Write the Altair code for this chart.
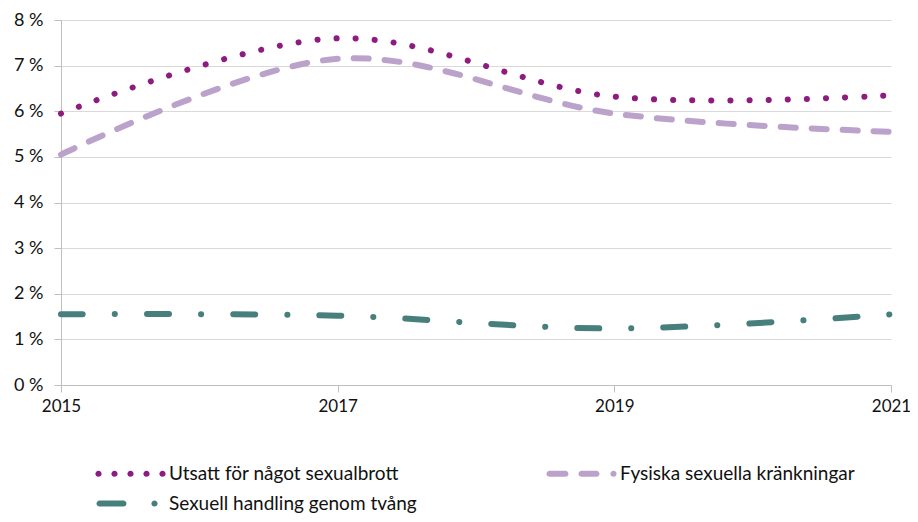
import altair as alt
import pandas as pd

years = [2015, 2017, 2019, 2021]
series_names = ["Utsatt för något sexualbrott", "Fysiska sexuella kränkningar", "Sexuell handling genom tvång"]
utsatt = [5.95, 7.6, 6.32, 6.35]
fysiska = [5.05, 7.15, 5.95, 5.55]
tvang = [1.55, 1.52, 1.24, 1.55]
colors = ["#8E1C80", "#BBA2CB", "#477F7D"]
dashes = [[0.1, 19], [15, 16], [22, 32, 0.1, 32]]
legend_order = [0, 2, 1]  # legend fills column-wise

rows = []
for name, vals in zip(series_names, [utsatt, fysiska, tvang]):
    for y, v in zip(years, vals):
        rows.append({"year": y, "value": v, "serie": name})
df = pd.DataFrame(rows)

SH = 1.6


def circle(cx, r=0.62):
    cx += SH
    return f"M{cx - r:.2f},0A{r},{r},0,1,0,{cx + r:.2f},0A{r},{r},0,1,0,{cx - r:.2f},0Z"


def capsule(x1, x2, r=0.62):
    x1 += SH
    x2 += SH
    return (f"M{x1 + r:.2f},{-r}L{x2 - r:.2f},{-r}A{r},{r},0,0,1,{x2 - r:.2f},{r}"
            f"L{x1 + r:.2f},{r}A{r},{r},0,0,1,{x1 + r:.2f},{-r}Z")


shapes = [
    "".join(circle(c) for c in [-12.8, -9.6, -6.4, -3.2, 0]),
    capsule(-13.4, -9.0) + capsule(-7.0, -2.8) + circle(0),
    capsule(-13.2, -7.2) + circle(-1.6),
]

FONT = "Lato"

x_enc = alt.X("year:Q", scale=alt.Scale(domain=[2015, 2021], nice=False, zero=False),
              axis=alt.Axis(values=[2015, 2017, 2019, 2021], format="d", title=None, grid=False,
                            domainColor="#BFBFBF", tickColor="#BFBFBF", tickSize=7,
                            labelPadding=6, labelFontSize=17, labelFont=FONT, labelColor="#111111",
                            labelFlush=False))
y_enc = alt.Y("value:Q", scale=alt.Scale(domain=[0, 8], nice=False),
              axis=alt.Axis(values=list(range(0, 9)), labelExpr="datum.value + ' %'", title=None,
                            domainColor="#BFBFBF", tickColor="#BFBFBF", tickSize=7,
                            gridColor="#D9D9D9", labelPadding=11, labelFontSize=18,
                            labelFont=FONT, labelColor="#111111"))

layers = []
for name, col, dash in zip(series_names, colors, dashes):
    layers.append(
        alt.Chart(df).transform_filter(alt.datum.serie == name)
        .mark_line(interpolate="catmull-rom", strokeWidth=6, strokeCap="round", color=col, strokeDash=dash)
        .encode(x=x_enc, y=y_enc)
    )

legend_def = alt.Legend(
    title=None, orient="none", legendX=84, legendY=444, columns=2, columnPadding=129,
    rowPadding=10, labelFontSize=19, labelFont=FONT, labelColor="#111111",
    symbolSize=100, symbolStrokeWidth=0, symbolOpacity=1, labelOffset=5, padding=0,
    labelLimit=400,
)

dom = [series_names[i] for i in legend_order]
pts = alt.Chart(df).mark_point(filled=True, opacity=1, strokeWidth=0, size=0).encode(
    x="year:Q",
    y="value:Q",
    color=alt.Color("serie:N", scale=alt.Scale(domain=dom, range=[colors[i] for i in legend_order]),
                    legend=legend_def),
    shape=alt.Shape("serie:N", scale=alt.Scale(domain=dom, range=[shapes[i] for i in legend_order]),
                    legend=legend_def),
)

chart = alt.layer(*layers, pts).properties(
    width=830, height=365, autosize="none",
    padding={"left": 53, "top": 12, "right": 19, "bottom": 129},
).configure_view(stroke=None)

chart.save("out.html", embed_options={"renderer": "svg", "actions": False})
